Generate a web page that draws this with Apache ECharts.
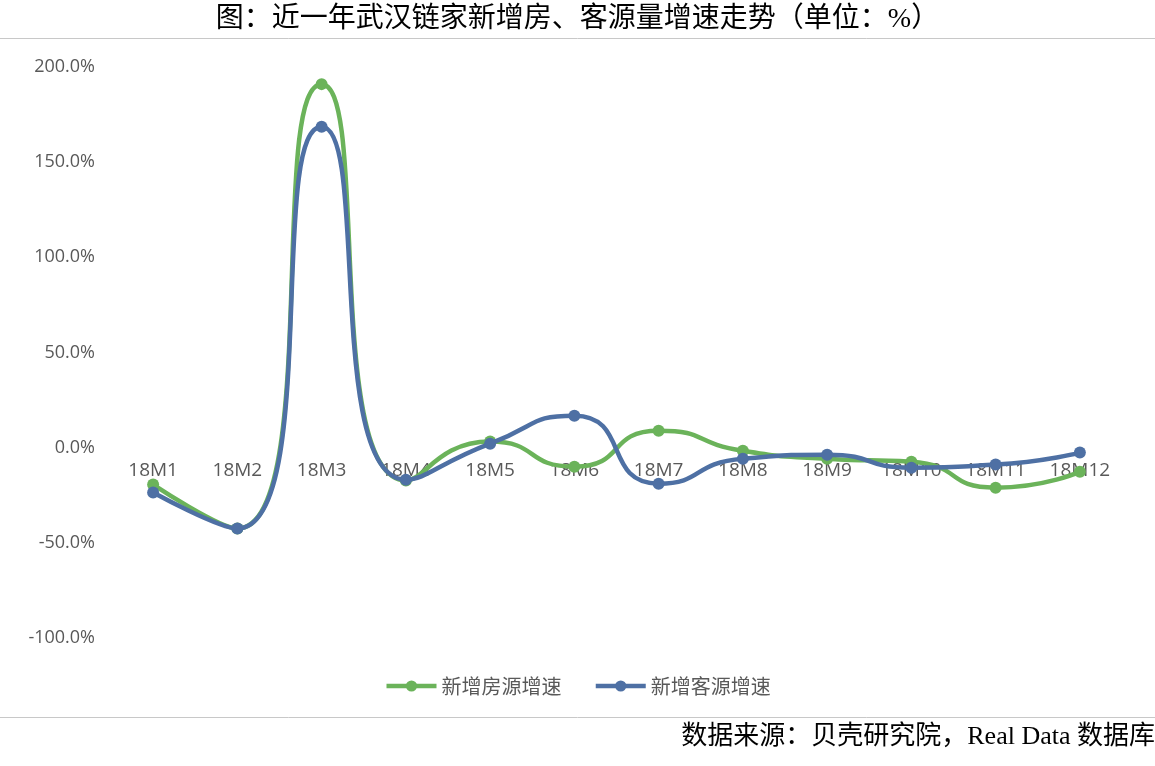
<!DOCTYPE html>
<html><head><meta charset="utf-8">
<script src="https://cdn.jsdelivr.net/npm/echarts@6/dist/echarts.min.js"></script>
<style>html,body{margin:0;padding:0;background:#fff}#c{width:1155px;height:766px}</style>
</head><body><div id="c"></div>
<script>
const categories = ['18M1','18M2','18M3','18M4','18M5','18M6','18M7','18M8','18M9','18M10','18M11','18M12'];
const seriesNames = ['新增房源增速','新增客源增速'];
const housingGrowth = [-19.4, -42.5, 191.0, -17.3, 3.2, -10.0, 8.9, -1.6, -5.8, -7.4, -21.0, -12.6];
const clientGrowth = [-23.6, -42.5, 168.6, -16.8, 2.1, 16.8, -18.9, -5.8, -3.7, -10.5, -8.9, -2.6];
const titleText = '图：近一年武汉链家新增房、客源量增速走势（单位：%）';
const sourceText = '数据来源：贝壳研究院，Real Data 数据库';

const chart = echarts.init(document.getElementById('c'));
const serif = '"Liberation Serif","Noto Sans CJK SC",serif';
chart.setOption({
  animation: false,
  backgroundColor: '#fff',
  title: {
    text: titleText, left: 'center', top: 1,
    textStyle: {fontFamily: serif, fontSize: 28, fontWeight: 'normal', color: '#000'}
  },
  graphic: [
    {type: 'line', shape: {x1: 0, y1: 38.5, x2: 1155, y2: 38.5}, style: {stroke: '#c8c8c8', lineWidth: 1}},
    {type: 'line', shape: {x1: 0, y1: 717.5, x2: 1155, y2: 717.5}, style: {stroke: '#c8c8c8', lineWidth: 1}},
    {type: 'text', right: 0, top: 724, style: {text: sourceText, font: '26px ' + serif, fill: '#000'}}
  ],
  legend: {
    data: seriesNames, left: 'center', top: 671, itemWidth: 50, itemHeight: 14, itemGap: 32,
    lineStyle: {width: 4.5},
    textStyle: {fontSize: 20, color: '#595959', fontFamily: '"Noto Sans CJK SC",sans-serif'}
  },
  grid: {left: 111, right: 33, top: 67, bottom: 128, containLabel: false},
  xAxis: {
    type: 'category', data: categories, boundaryGap: true, offset: -190, z: 0,
    axisLine: {show: false, onZero: false}, axisTick: {show: false},
    axisLabel: {fontSize: 19, color: '#595959', margin: 13, fontFamily: '"Open Sans","DejaVu Sans",sans-serif'}
  },
  yAxis: {
    type: 'value', min: -100, max: 200, interval: 50,
    splitLine: {show: false}, axisLine: {show: false}, axisTick: {show: false},
    axisLabel: {fontSize: 18, color: '#595959', margin: 16, fontFamily: '"Open Sans","DejaVu Sans",sans-serif',
      formatter: v => v.toFixed(1) + '%'}
  },
  series: [
    {name: seriesNames[0], type: 'line', data: housingGrowth, smooth: 0.6, symbol: 'circle', symbolSize: 12, z: 3,
     lineStyle: {width: 4.5, color: '#6BB35A'}, itemStyle: {color: '#6BB35A'}},
    {name: seriesNames[1], type: 'line', data: clientGrowth, smooth: 0.6, symbol: 'circle', symbolSize: 12, z: 4,
     lineStyle: {width: 4.5, color: '#4E70A4'}, itemStyle: {color: '#4E70A4'}}
  ]
});
</script></body></html>
